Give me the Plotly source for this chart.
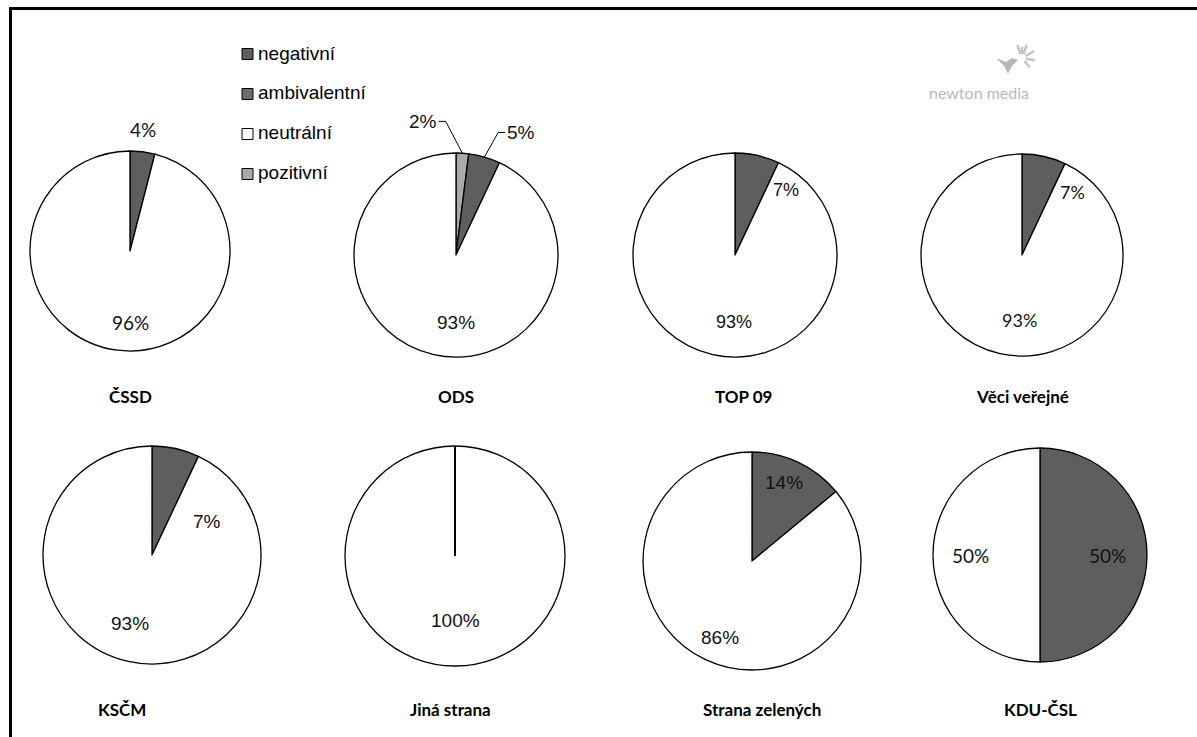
import math
import plotly.graph_objects as go

W, H = 1197, 737

# ---- data ----
parties = ["ČSSD", "ODS", "TOP 09", "Věci veřejné", "KSČM", "Jiná strana", "Strana zelených", "KDU-ČSL"]
categories = ["negativní", "ambivalentní", "neutrální", "pozitivní"]
negativni = [4, 5, 7, 7, 7, 0, 14, 50]
ambivalentni = [0, 0, 0, 0, 0, 0, 0, 0]
neutralni = [96, 93, 93, 93, 93, 100, 86, 50]
pozitivni = [0, 2, 0, 0, 0, 0, 0, 0]

# ---- layout / style (not data) ----
pie_cx = [130, 456, 735, 1022, 152, 455, 752, 1040]
pie_cy = [251, 255, 255, 255, 555, 556, 561, 555]
pie_r = [100, 102, 102, 101, 109, 110, 109, 107]
title_y = [396, 396, 396, 396, 709, 709, 709, 709]
title_dx = [0, 0, 8, 0, -30, -5, 10, 0]

colors = {"negativní": "#5e5e5e", "ambivalentní": "#6e6e6e", "neutrální": "#ffffff", "pozitivní": "#a9a9a9"}
draw_order = ["pozitivní", "negativní", "ambivalentní", "neutrální"]

# label placement per category: (angle from 12 o'clock clockwise, radius fraction)
label_place = [
    {"negativní": (6, 1.22), "neutrální": (180, 0.71)},
    {"pozitivní": (-14, 1.35), "negativní": (28, 1.36), "neutrální": (180, 0.66)},
    {"negativní": (38, 0.81), "neutrální": (181, 0.66)},
    {"negativní": (39, 0.80), "neutrální": (182, 0.64)},
    {"negativní": (59, 0.59), "neutrální": (198, 0.66)},
    {"neutrální": (180, 0.59)},
    {"negativní": (22, 0.78), "neutrální": (203, 0.76)},
    {"negativní": (90, 0.63), "neutrální": (270, 0.65)},
]
label_font = ["Lato", "Liberation Sans", "Liberation Sans", "Lato", "Liberation Sans", "Liberation Sans",
              "Liberation Sans", "Lato"]
label_size = [19, 19, 18, 18, 19, 19, 19, 19]
leader_parties = {1: ["pozitivní", "negativní"]}

series = {"negativní": negativni, "ambivalentní": ambivalentni, "neutrální": neutralni, "pozitivní": pozitivni}


def px(x):
    return x / W


def py(y):
    return 1 - y / H


fig = go.Figure()
annotations = []
shapes = []

for i, party in enumerate(parties):
    cx, cy, r = pie_cx[i], pie_cy[i], pie_r[i]
    labs = [c for c in draw_order if series[c][i] > 0]
    vals = [series[c][i] for c in labs]
    fig.add_trace(go.Pie(
        labels=labs, values=vals, sort=False, direction="clockwise", rotation=0,
        marker=dict(colors=[colors[c] for c in labs], line=dict(color="#000000", width=1.3)),
        textinfo="none", hoverinfo="label+percent", showlegend=False,
        domain=dict(x=[px(cx - r), px(cx + r)], y=[py(cy + r), py(cy - r)]),
    ))
    if len(labs) == 1:
        shapes.append(dict(type="line", xref="paper", yref="paper",
                           x0=px(cx), y0=py(cy), x1=px(cx), y1=py(cy - r),
                           line=dict(color="#000", width=2)))
    total = sum(vals)
    cum = 0
    for c, v in zip(labs, vals):
        mid = (cum + v / 2) / total * 360
        cum += v
        ang, frac = label_place[i][c]
        lx = cx + frac * r * math.sin(math.radians(ang))
        ly = cy - frac * r * math.cos(math.radians(ang))
        annotations.append(dict(x=px(lx), y=py(ly), xref="paper", yref="paper",
                                text=f"{v}%", showarrow=False, xanchor="center", yanchor="middle",
                                font=dict(family=label_font[i], size=label_size[i], color="#111")))
        if c in leader_parties.get(i, []):
            ex = cx + r * math.sin(math.radians(mid))
            ey = cy - r * math.cos(math.radians(mid))
            side = 1 if ang < 0 else -1
            end_x = lx + side * 16
            elbow_x = end_x + side * 7
            shapes.append(dict(type="path", xref="paper", yref="paper",
                               path=f"M {px(end_x)} {py(ly)} L {px(elbow_x)} {py(ly)} L {px(ex)} {py(ey)}",
                               line=dict(color="#000", width=1)))
    annotations.append(dict(x=px(cx + title_dx[i]), y=py(title_y[i]), xref="paper", yref="paper",
                            text=f"<b>{party}</b>", showarrow=False, xanchor="center", yanchor="middle",
                            font=dict(family="Lato", size=17, color="#000")))

# legend (drawn manually)
leg_y = [54, 94, 134, 174]
for c, yy in zip(categories, leg_y):
    shapes.append(dict(type="rect", xref="paper", yref="paper",
                       x0=px(242), x1=px(253), y0=py(yy + 5.5), y1=py(yy - 5.5),
                       fillcolor=colors[c], line=dict(color="#000", width=1)))
    annotations.append(dict(x=px(256), y=py(yy - 1), xref="paper", yref="paper", text=c,
                            showarrow=False, xanchor="left", yanchor="middle",
                            font=dict(family="Liberation Sans", size=19, color="#000")))

# frame
shapes.append(dict(type="line", xref="paper", yref="paper", x0=px(10.5), x1=px(10.5), y0=py(7), y1=0,
                   line=dict(color="#000", width=3)))
shapes.append(dict(type="line", xref="paper", yref="paper", x0=px(9), x1=1, y0=py(8.5), y1=py(8.5),
                   line=dict(color="#000", width=3)))

# logo
annotations.append(dict(x=px(979), y=py(93), xref="paper", yref="paper", text="newton media",
                        showarrow=False, xanchor="center", yanchor="middle",
                        font=dict(family="Lato", size=16, color="#b8b8b8")))
shapes.append(dict(type="path", xref="paper", yref="paper",
                   path=" ".join([
                       f"M {px(996)} {py(58)}", f"L {px(1006)} {py(62)}", f"L {px(1012)} {py(58)}",
                       f"L {px(1018)} {py(60)}", f"L {px(1012)} {py(66)}", f"L {px(1008)} {py(74)}",
                       f"L {px(1004)} {py(66)}", "Z"]),
                   fillcolor="#b8b8b8", line=dict(width=0)))
for ang, l in [(-20, 10), (20, 10), (60, 10), (100, 9), (140, 8), (0, 7)]:
    ox, oy = 1022, 58
    x0 = ox + 4 * math.sin(math.radians(ang))
    y0 = oy - 4 * math.cos(math.radians(ang))
    x1 = ox + (4 + l) * math.sin(math.radians(ang))
    y1 = oy - (4 + l) * math.cos(math.radians(ang))
    shapes.append(dict(type="line", xref="paper", yref="paper", x0=px(x0), y0=py(y0), x1=px(x1), y1=py(y1),
                       line=dict(color="#c4c4c4", width=2.5)))

fig.update_layout(width=W, height=H, margin=dict(l=0, r=0, t=0, b=0),
                  paper_bgcolor="#ffffff", plot_bgcolor="#ffffff",
                  annotations=annotations, shapes=shapes, showlegend=False)

fig.write_html("out.html", config={"displayModeBar": False},
               post_script="document.body.style.margin='0';document.body.style.overflow='hidden';")
